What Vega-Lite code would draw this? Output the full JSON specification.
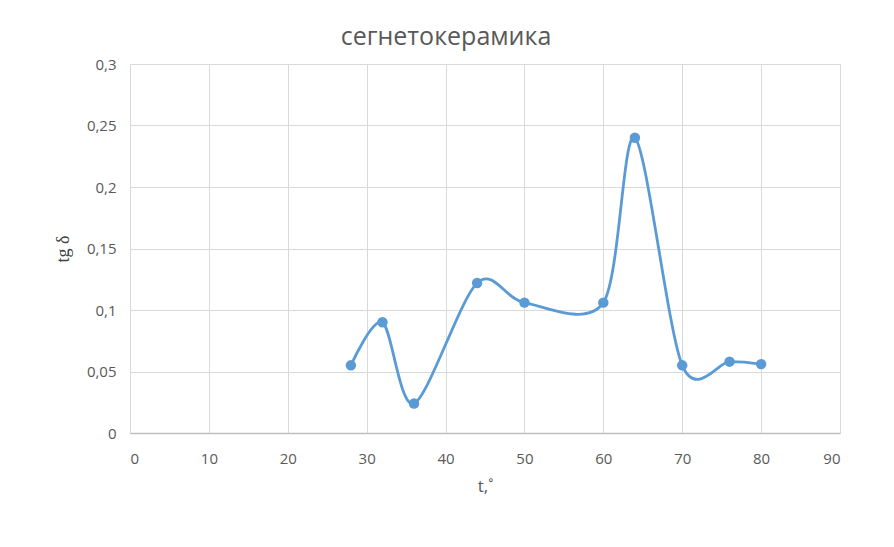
{
  "$schema": "https://vega.github.io/schema/vega-lite/v6.json",
  "width": 710,
  "height": 369,
  "autosize": {"type": "none"},
  "padding": {"left": 130, "top": 64, "right": 54, "bottom": 114},
  "background": "white",
  "title": {
    "text": "сегнетокерамика",
    "font": "Open Sans",
    "fontSize": 25,
    "fontWeight": "normal",
    "color": "#595959",
    "offset": 7,
    "dx": -39,
    "anchor": "middle"
  },
  "config": {
    "locale": {
      "number": {"decimal": ",", "thousands": " ", "grouping": [3], "currency": ["", ""]}
    },
    "view": {"stroke": null},
    "axis": {
      "labelFont": "Open Sans",
      "labelFontSize": 15,
      "labelColor": "#595959",
      "gridColor": "#D9D9D9",
      "gridWidth": 1,
      "ticks": false
    }
  },
  "data": {
    "values": [
      {"t": 28, "tg": 0.055},
      {"t": 32, "tg": 0.090},
      {"t": 36, "tg": 0.024},
      {"t": 44, "tg": 0.122},
      {"t": 50, "tg": 0.106},
      {"t": 60, "tg": 0.106},
      {"t": 64, "tg": 0.240},
      {"t": 70, "tg": 0.055},
      {"t": 76, "tg": 0.058},
      {"t": 80, "tg": 0.056}
    ]
  },
  "mark": {
    "type": "line",
    "interpolate": "cardinal",
    "tension": 0.1,
    "color": "#5B9BD5",
    "strokeWidth": 2.8,
    "point": {"filled": true, "size": 110, "color": "#5B9BD5", "opacity": 1}
  },
  "encoding": {
    "x": {
      "field": "t",
      "type": "quantitative",
      "scale": {"domain": [0, 90], "nice": false},
      "axis": {
        "values": [0, 10, 20, 30, 40, 50, 60, 70, 80, 90],
        "format": "~r",
        "title": "t,˚",
        "titleFont": "Open Sans",
        "titleFontSize": 17,
        "titleFontWeight": "normal",
        "titleColor": "#595959",
        "titlePadding": 12,
        "labelPadding": 18,
        "domainColor": "#BFBFBF",
        "domainWidth": 1.3
      }
    },
    "y": {
      "field": "tg",
      "type": "quantitative",
      "scale": {"domain": [0, 0.3], "nice": false},
      "axis": {
        "values": [0, 0.05, 0.1, 0.15, 0.2, 0.25, 0.3],
        "format": "~r",
        "domain": false,
        "title": "tg δ",
        "titleFont": "Liberation Serif",
        "titleFontSize": 18,
        "titleFontWeight": "normal",
        "titleColor": "#404040",
        "titlePadding": 14,
        "labelPadding": 14
      }
    }
  }
}
